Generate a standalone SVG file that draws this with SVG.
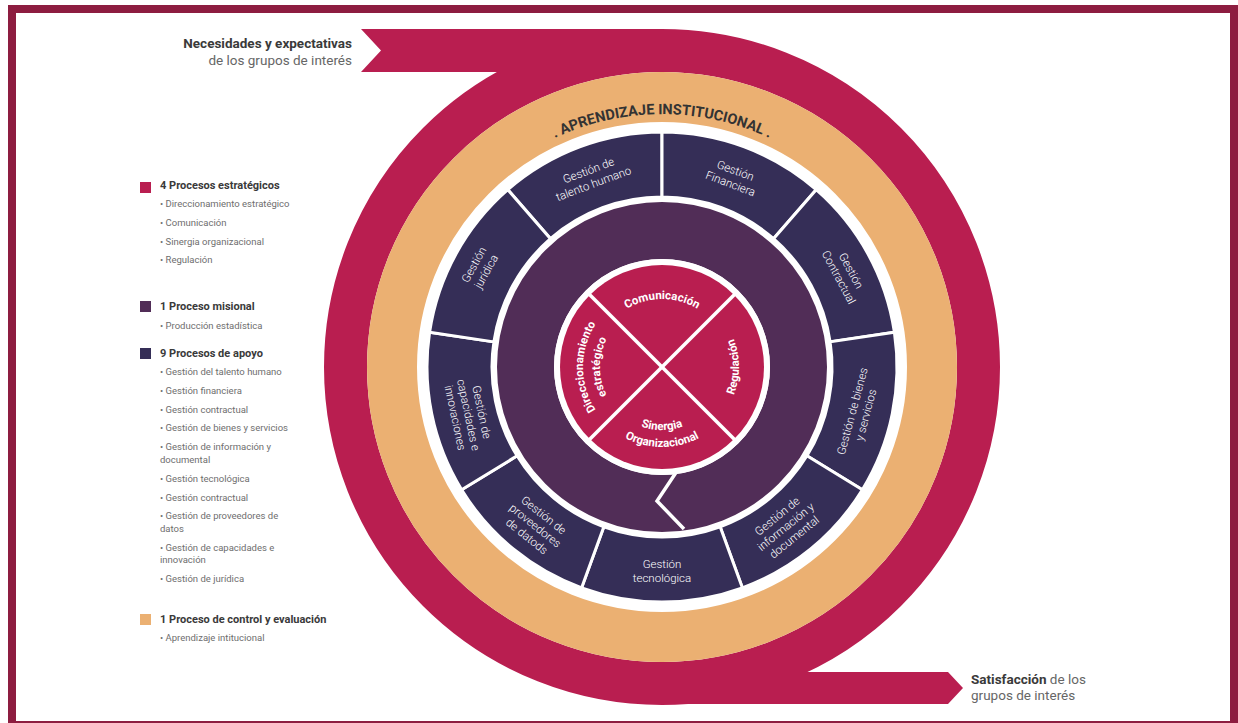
<svg xmlns="http://www.w3.org/2000/svg" width="1238" height="723" viewBox="0 0 1238 723">
<style>
.lh{font-family:Roboto,"Liberation Sans",sans-serif;font-weight:700;font-size:11px;fill:#3a3a3a}
.li{font-family:Roboto,"Liberation Sans",sans-serif;font-weight:400;font-size:9.5px;fill:#6e6e6e}
.seg{fill:#352e57;stroke:#fff;stroke-width:3}
.sl{font-family:Roboto,"Liberation Sans",sans-serif;font-weight:300;font-size:11.5px;fill:#fff;text-anchor:middle}
.il{font-family:Roboto,"Liberation Sans",sans-serif;font-weight:700;font-size:11.5px;fill:#fff}
.big{font-family:Roboto,"Liberation Sans",sans-serif;font-weight:700}
.side{font-family:Roboto,"Liberation Sans",sans-serif;font-size:13.5px}
</style>
<defs>
<path id="pApr" d="M 424.3 280.5 A 253 253 0 0 1 899.7 280.5"/>
<path id="pProd" d="M 545.5 409.4 A 124 124 0 0 1 778.5 409.4"/>
<path id="pCom" d="M 603.1 333 A 68 68 0 0 1 720.9 333"/>
<path id="pReg" d="M 721 416.5 A 77 77 0 0 0 721 317.5"/>
<path id="pDir" d="M 601.5 417.8 A 79 79 0 0 1 601.5 316.2"/>
<path id="pEst" d="M 614.5 406.9 A 62 62 0 0 1 614.5 327.1"/>
<path id="pSin" d="M 607.4 398.5 A 63 63 0 0 0 716.6 398.5"/>
<path id="pOrg" d="M 592.7 407 A 80 80 0 0 0 731.3 407"/>
</defs>
<rect x="0" y="0" width="1238" height="723" fill="#fff"/>
<rect x="12" y="9" width="1222" height="716" fill="none" stroke="#8d1d40" stroke-width="8"/>

<g id="flujo-crimson">
<circle cx="662" cy="367" r="316.5" fill="none" stroke="#b91e50" stroke-width="43"/>
<polygon points="361,29 662,29 662,72 361,72 381,50.5" fill="#b91e50"/>
<polygon points="662,672 948,672 963,688 948,704 662,704" fill="#b91e50"/>
</g>

<g id="aprendizaje-institucional">
<circle cx="662" cy="367" r="270" fill="none" stroke="#ebb072" stroke-width="50"/>
<text class="big" font-size="14.5" fill="#333"><textPath href="#pApr" startOffset="50%" text-anchor="middle">. APRENDIZAJE INSTITUCIONAL .</textPath></text>
</g>

<g id="s-talento"><path class="seg" d="M 507.82 189.65 A 235 235 0 0 1 662 132 L 662 197 A 170 170 0 0 0 550.46 238.7 Z"/>
<text class="sl" transform="translate(591 177) rotate(-20.5)"><tspan x="0" y="-3">Gestión de</tspan><tspan x="0" y="11">talento humano</tspan></text></g>
<g id="s-financiera"><path class="seg" d="M 662 132 A 235 235 0 0 1 816.18 189.65 L 773.54 238.7 A 170 170 0 0 0 662 197 Z"/>
<text class="sl" transform="translate(733 177) rotate(20.5)"><tspan x="0" y="-3">Gestión</tspan><tspan x="0" y="11">Financiera</tspan></text></g>
<g id="s-contractual"><path class="seg" d="M 816.18 189.65 A 235 235 0 0 1 894.42 332.27 L 830.13 341.87 A 170 170 0 0 0 773.54 238.7 Z"/>
<text class="sl" transform="translate(845 274) rotate(62)"><tspan x="0" y="-3">Gestión</tspan><tspan x="0" y="11">Contractual</tspan></text></g>
<g id="s-bienes"><path class="seg" d="M 894.42 332.27 A 235 235 0 0 1 862.36 489.79 L 806.94 455.83 A 170 170 0 0 0 830.13 341.87 Z"/>
<text class="sl" transform="translate(859 413) rotate(-75)"><tspan x="0" y="-3">Gestión de bienes</tspan><tspan x="0" y="11">y servicios</tspan></text></g>
<g id="s-informacion"><path class="seg" d="M 862.36 489.79 A 235 235 0 0 1 742.37 587.83 L 720.14 526.75 A 170 170 0 0 0 806.94 455.83 Z"/>
<text class="sl" transform="translate(786 527) rotate(-39)"><tspan x="0" y="-10">Gestión de</tspan><tspan x="0" y="3.5">información y</tspan><tspan x="0" y="17">documental</tspan></text></g>
<g id="s-tecnologica"><path class="seg" d="M 742.37 587.83 A 235 235 0 0 1 581.63 587.83 L 603.86 526.75 A 170 170 0 0 0 720.14 526.75 Z"/>
<text class="sl" transform="translate(662 571)"><tspan x="0" y="-3">Gestión</tspan><tspan x="0" y="11">tecnológica</tspan></text></g>
<g id="s-proveedores"><path class="seg" d="M 581.63 587.83 A 235 235 0 0 1 461.64 489.79 L 517.06 455.83 A 170 170 0 0 0 603.86 526.75 Z"/>
<text class="sl" transform="translate(535 526) rotate(38.6)"><tspan x="0" y="-10">Gestión de</tspan><tspan x="0" y="3.5">proveedores</tspan><tspan x="0" y="17">de datods</tspan></text></g>
<g id="s-capacidades"><path class="seg" d="M 461.64 489.79 A 235 235 0 0 1 429.58 332.27 L 493.87 341.87 A 170 170 0 0 0 517.06 455.83 Z"/>
<text class="sl" transform="translate(468 415) rotate(78)"><tspan x="0" y="-10">Gestión de</tspan><tspan x="0" y="3.5">capacidades e</tspan><tspan x="0" y="17">innovaciones</tspan></text></g>
<g id="s-juridica"><path class="seg" d="M 429.58 332.27 A 235 235 0 0 1 507.82 189.65 L 550.46 238.7 A 170 170 0 0 0 493.87 341.87 Z"/>
<text class="sl" transform="translate(480 268) rotate(-61)"><tspan x="0" y="-3">Gestión</tspan><tspan x="0" y="11">jurídica</tspan></text></g>

<g id="produccion-estadistica">
<circle cx="662" cy="367" r="136.5" fill="none" stroke="#512d57" stroke-width="57"/>
<polyline points="677,471 657,501 684,529" fill="none" stroke="#fff" stroke-width="3.5"/>
<text class="big" font-size="13" fill="#fff"><textPath href="#pProd" startOffset="50%" text-anchor="middle">. PRODUCCION ESTADÍSTICA .</textPath></text>
</g>

<g id="procesos-estrategicos">
<circle cx="662" cy="367" r="108" fill="#fff"/>
<circle cx="662" cy="367" r="102" fill="#b91e50"/>
<line x1="588.5" y1="293.5" x2="735.5" y2="440.5" stroke="#fff" stroke-width="3.5"/>
<line x1="735.5" y1="293.5" x2="588.5" y2="440.5" stroke="#fff" stroke-width="3.5"/>
<text class="il" font-size="12"><textPath href="#pCom" startOffset="50%" text-anchor="middle">Comunicación</textPath></text>
<text class="il"><textPath href="#pReg" startOffset="50%" text-anchor="middle">Regulación</textPath></text>
<text class="il" font-size="11"><textPath href="#pDir" startOffset="50%" text-anchor="middle">Direccionamiento</textPath></text>
<text class="il" font-size="11"><textPath href="#pEst" startOffset="50%" text-anchor="middle">estratégico</textPath></text>
<text class="il"><textPath href="#pSin" startOffset="50%" text-anchor="middle">Sinergia</textPath></text>
<text class="il"><textPath href="#pOrg" startOffset="50%" text-anchor="middle">Organizacional</textPath></text>
</g>

<g id="entrada">
<text class="side big" x="352" y="48" text-anchor="end" font-size="14.3px" fill="#3a3a3a">Necesidades y expectativas</text>
<text class="side" x="352" y="65" text-anchor="end" fill="#666">de los grupos de interés</text>
</g>
<g id="salida">
<text class="side" x="971" y="684" fill="#666"><tspan font-weight="700" fill="#3a3a3a">Satisfacción</tspan> de los</text>
<text class="side" x="971" y="700" fill="#666">grupos de interés</text>
</g>

<g id="leyenda">
<rect x="140" y="182" width="11" height="11" fill="#b91e50"/>
<text class="lh" x="160" y="188.5">4 Procesos estratégicos</text>
<text class="li" x="160" y="206.5">• Direccionamiento estratégico</text>
<text class="li" x="160" y="225.5">• Comunicación</text>
<text class="li" x="160" y="244.5">• Sinergia organizacional</text>
<text class="li" x="160" y="262.5">• Regulación</text>
<rect x="140" y="301" width="11" height="11" fill="#512d57"/>
<text class="lh" x="160" y="310">1 Proceso misional</text>
<text class="li" x="160" y="328.5">• Producción estadística</text>
<rect x="140" y="348" width="11" height="11" fill="#352e57"/>
<text class="lh" x="160" y="356.5">9 Procesos de apoyo</text>
<text class="li" x="160" y="375">• Gestión del talento humano</text>
<text class="li" x="160" y="394">• Gestión financiera</text>
<text class="li" x="160" y="412.5">• Gestión contractual</text>
<text class="li" x="160" y="431">• Gestión de bienes y servicios</text>
<text class="li" x="160" y="450">• Gestión de información y</text>
<text class="li" x="160" y="462.5">documental</text>
<text class="li" x="160" y="481.5">• Gestión tecnológica</text>
<text class="li" x="160" y="500.5">• Gestión contractual</text>
<text class="li" x="160" y="519">• Gestión de proveedores de</text>
<text class="li" x="160" y="531.5">datos</text>
<text class="li" x="160" y="551">• Gestión de capacidades e</text>
<text class="li" x="160" y="562.5">innovación</text>
<text class="li" x="160" y="581.5">• Gestión de jurídica</text>
<rect x="140" y="614" width="11" height="11" fill="#ebb072"/>
<text class="lh" x="160" y="623">1 Proceso de control y evaluación</text>
<text class="li" x="160" y="641">• Aprendizaje intitucional</text>
</g>
</svg>
